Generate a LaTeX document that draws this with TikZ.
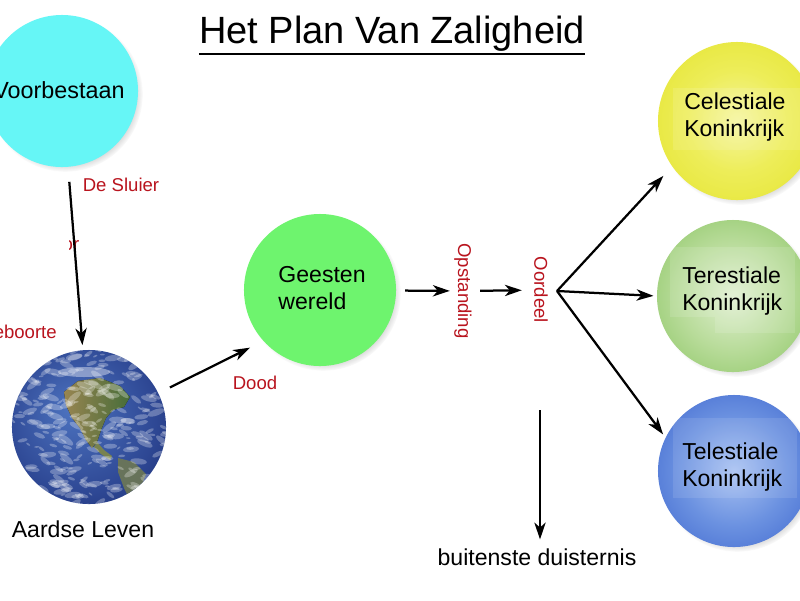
\documentclass[tikz,border=0pt]{standalone}
\usepackage{fontspec}
\setmainfont{Liberation Sans}
\usetikzlibrary{arrows.meta,shadows,calc}
\definecolor{lbl}{RGB}{185,20,30}
\definecolor{cyanb}{RGB}{102,246,246}
\definecolor{greenb}{RGB}{110,244,110}
\definecolor{landA}{RGB}{160,140,85}
\definecolor{landB}{RGB}{75,115,60}
\definecolor{landC}{RGB}{120,130,80}
\definecolor{landD}{RGB}{110,120,85}
\pgfdeclareradialshading{celshade}{\pgfpoint{0bp}{0bp}}{rgb(0bp)=(0.96,0.96,0.62); rgb(16bp)=(0.93,0.93,0.35); rgb(38bp)=(0.89,0.89,0.16); rgb(50bp)=(0.82,0.82,0.10)}
\pgfdeclareradialshading{terrshade}{\pgfpoint{0bp}{0bp}}{rgb(0bp)=(0.88,0.94,0.82); rgb(18bp)=(0.72,0.86,0.60); rgb(38bp)=(0.52,0.76,0.36); rgb(50bp)=(0.42,0.68,0.28)}
\pgfdeclareradialshading{telshade}{\pgfpoint{0bp}{0bp}}{rgb(0bp)=(0.66,0.76,0.95); rgb(18bp)=(0.42,0.57,0.88); rgb(38bp)=(0.22,0.38,0.80); rgb(50bp)=(0.15,0.28,0.70)}
\pgfdeclareradialshading{earthshade}{\pgfpoint{-6bp}{6bp}}{rgb(0bp)=(0.30,0.45,0.75); rgb(25bp)=(0.18,0.28,0.58); rgb(45bp)=(0.08,0.13,0.38); rgb(55bp)=(0.04,0.07,0.22)}
\tikzset{
  arr/.style={line width=1.6pt, -{Stealth[length=12pt,width=8pt,inset=3.5pt]}},
  bubble/.style={circle, inner sep=0pt, circular drop shadow={shadow xshift=0.08cm, shadow yshift=-0.08cm, shadow scale=1.02, opacity=0.45}},
  bigtxt/.style={font=\fontsize{16.4}{19.5}\selectfont, inner sep=0pt, align=left},
  redtxt/.style={font=\fontsize{13.2}{15}\selectfont, text=lbl, inner sep=0pt},
}
\begin{document}
\begin{tikzpicture}[x=0.025cm,y=-0.025cm]
\useasboundingbox[fill=white] (0,0) rectangle (800,600);

% title
\node[font=\fontsize{27}{32}\selectfont, inner sep=0pt] (title) at (392,34) {Het Plan Van Zaligheid};
\draw[line width=1.6pt] ($(title.south west)+(0,2)$) -- ($(title.south east)+(0,2)$);

% Voorbestaan
\node[bubble, minimum size=3.8cm, fill=cyanb] (v) at (62,91) {};
\node[font=\fontsize{16.6}{19}\selectfont, inner sep=0pt] (vtext) at (59,90) {Voorbestaan};

% Earth
\node[circle, inner sep=0pt, minimum size=3.85cm, shading=earthshade] (e) at (89,427) {};
\begin{scope}
  \clip (e.center) circle (77);
  \fill[left color=landA, right color=landB, opacity=0.95]
    (64,392) -- (78,381) -- (100,378) -- (120,386) -- (130,397) -- (124,407) -- (113,410) -- (106,418)
    -- (101,430) -- (97,442) -- (92,448) -- (86,440) -- (80,428) -- (72,418) -- (66,405) -- cycle;
  \fill[landC] (97,442) -- (104,450) -- (112,456) -- (110,460) -- (101,454) -- (94,447) -- cycle;
  \fill[landD, opacity=0.9] (118,458) -- (134,462) -- (146,474) -- (140,490) -- (130,500) -- (124,488) -- (118,472) -- cycle;
  \pgfmathsetseed{11}
  \foreach \i in {1,...,260}{
    \pgfmathsetmacro\ang{rnd*360}
    \pgfmathsetmacro\rad{sqrt(rnd)*80}
    \pgfmathsetmacro\ex{89+\rad*cos(\ang)}
    \pgfmathsetmacro\ey{427+\rad*sin(\ang)}
    \pgfmathsetmacro\sz{1+rnd*3}
    \pgfmathsetmacro\rot{-40+rnd*80}
    \fill[white, opacity=0.28, rotate around={\rot:(\ex,\ey)}] (\ex,\ey) ellipse ({\sz*2.2} and {\sz*0.8});
  }
  \fill[white, opacity=0.4] (84,372) ellipse (26 and 5);
\end{scope}
\node[bigtxt] (aarde) at (83,529) {Aardse Leven};

% Geesten wereld
\node[bubble, minimum size=3.8cm, fill=greenb] (g) at (320,290) {};
\node[bigtxt] (gtext) at (322,288) {Geesten\\wereld};

% Kingdoms
\node[bubble, minimum size=3.95cm, shading=celshade] (c) at (737,121) {};
\node[bubble, minimum size=3.8cm, shading=terrshade] (t) at (733,296) {};
\node[bubble, minimum size=3.8cm, shading=telshade] (tl) at (734,471) {};
\fill[white, opacity=0.12] (673,88) rectangle (800,150);
\fill[white, opacity=0.12] (670,247) rectangle (795,317);
\fill[white, opacity=0.12] (715,317) rectangle (795,333);
\fill[white, opacity=0.10] (673,418) rectangle (797,498);
\node[bigtxt, anchor=west] (ctext) at (684,117) {Celestiale\\Koninkrijk};
\node[bigtxt, anchor=west] (ttext) at (682,291) {Terestiale\\Koninkrijk};
\node[bigtxt, anchor=west] (tltext) at (682,467) {Telestiale\\Koninkrijk};

% labels
\node[redtxt] (sluier) at (121,185) {De Sluier};
\node[redtxt, anchor=east] (geb) at (57,332) {Geboorte};
\begin{scope}
  \clip (69,232) rectangle (80,258);
  \node[redtxt] (frag) at (71,246) {or};
\end{scope}
\node[redtxt] (dood) at (255,383) {Dood};
\node[redtxt, rotate=-90] (o) at (463,291) {Opstanding};
\node[redtxt, rotate=-90] (od) at (541,290) {Oordeel};
\node[bigtxt] (b) at (537,557) {buitenste duisternis};

% connectors
\draw[arr, shorten <=0.37cm, shorten >=0.12cm] (v) -- (e);
\draw[arr, shorten <=0.32cm, shorten >=0.37cm] (e.26) -- (g.222);
\draw[arr, shorten <=2.13cm, shorten >=0.33cm] (g.center) -- (o.center);
\draw[arr, shorten <=0.43cm, shorten >=0.48cm] (o.center) -- (od.center);
\coordinate (fork) at (557,291);
\draw[arr, shorten >=0.32cm] (fork) -- (c.215);
\draw[arr, shorten >=0.08cm] (fork) -- (t.180);
\draw[arr, shorten >=0.1cm] (fork) -- (tl.154);
\coordinate (dstart) at (540,410);
\draw[arr, shorten >=0.22cm] (dstart) -- (dstart |- b.north);
\end{tikzpicture}
\end{document}
